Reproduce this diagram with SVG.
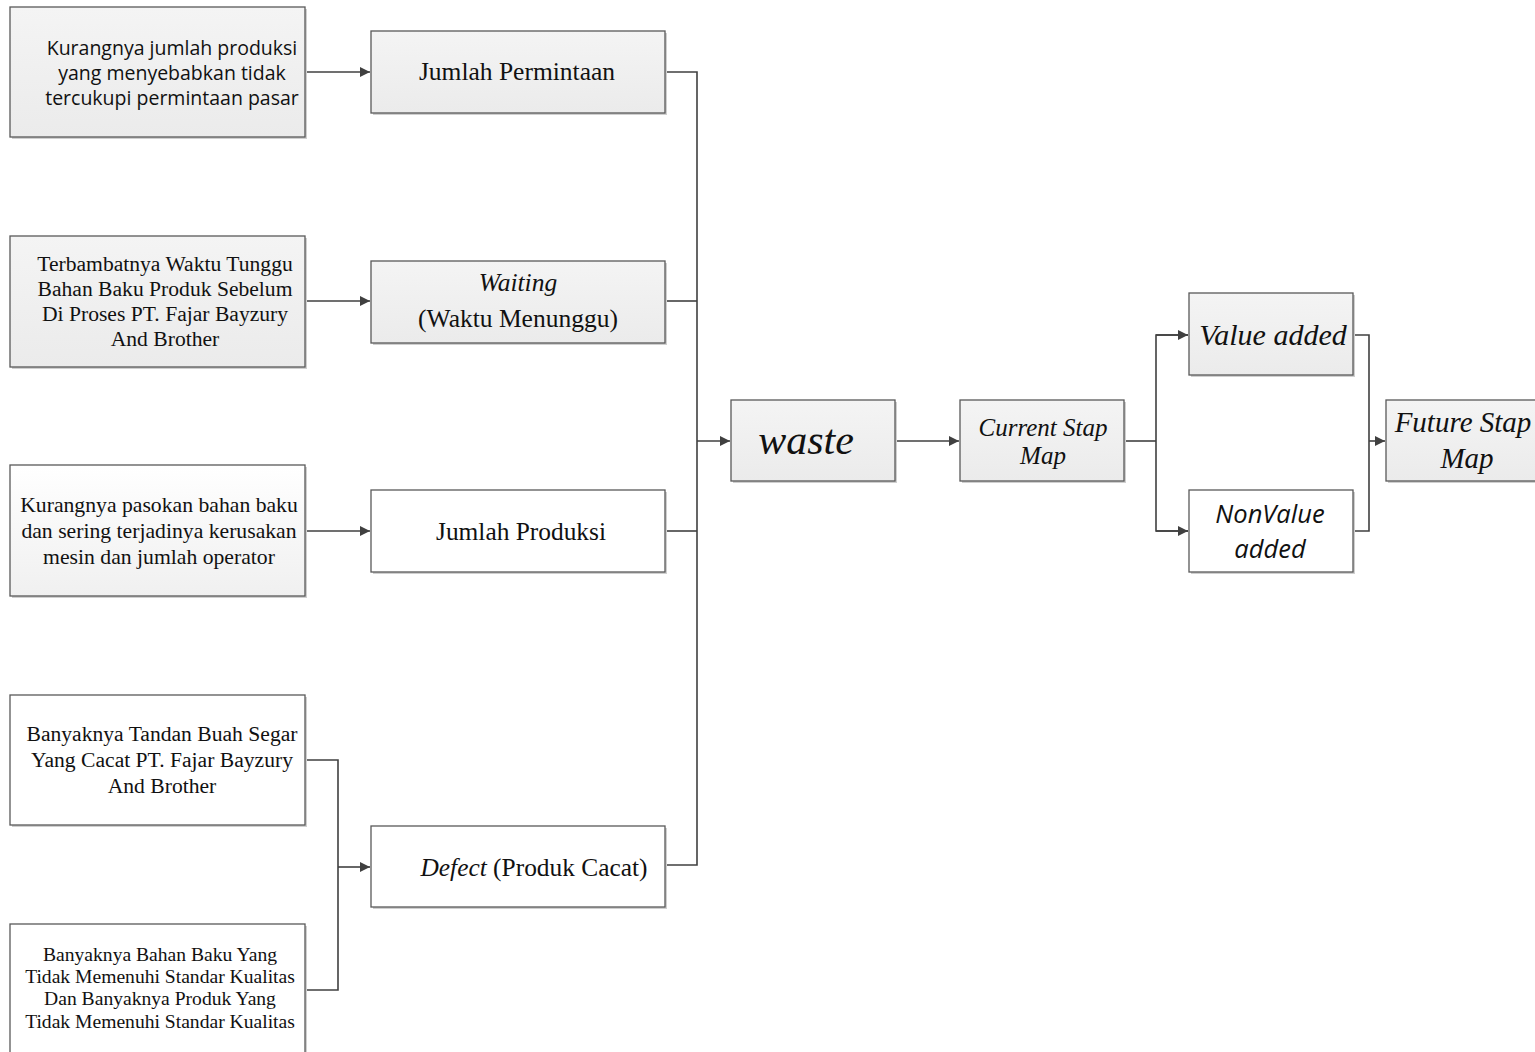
<svg xmlns="http://www.w3.org/2000/svg" width="1535" height="1052" viewBox="0 0 1535 1052">
<style>
.box{stroke:#595959;stroke-width:1.3}
.g{fill:url(#gr)}
.w{fill:#ffffff}
.sh{fill:#cfcfcf}
.t{font-family:"Liberation Serif","Times New Roman",serif;fill:#111;text-anchor:middle}
.s{font-family:"Open Sans","Liberation Sans",Arial,sans-serif;fill:#111;text-anchor:middle}
.i{font-style:italic}
.c{fill:none;stroke:#404040;stroke-width:1.6}
</style>
<defs>
<linearGradient id="gr" x1="0" y1="0" x2="0" y2="1">
<stop offset="0" stop-color="#f4f4f4"/>
<stop offset="1" stop-color="#ebebeb"/>
</linearGradient>
<linearGradient id="gr2" x1="0" y1="0" x2="0" y2="1">
<stop offset="0" stop-color="#ffffff"/>
<stop offset="1" stop-color="#f0f0f0"/>
</linearGradient>
<marker id="ar" viewBox="0 0 10 10" refX="10" refY="5" markerWidth="11" markerHeight="10" markerUnits="userSpaceOnUse" orient="auto">
<path d="M0,0 L10,5 L0,10 z" fill="#404040"/>
</marker>
</defs>

<g id="connectors">
<line class="c" x1="305" y1="72" x2="370" y2="72" marker-end="url(#ar)"/>
<line class="c" x1="305" y1="301" x2="370" y2="301" marker-end="url(#ar)"/>
<line class="c" x1="305" y1="531" x2="370" y2="531" marker-end="url(#ar)"/>
<polyline class="c" points="305,760 338,760 338,990 305,990"/>
<line class="c" x1="338" y1="867" x2="370" y2="867" marker-end="url(#ar)"/>
<polyline class="c" points="665,72 697,72 697,865 665,865"/>
<line class="c" x1="665" y1="301" x2="697" y2="301"/>
<line class="c" x1="665" y1="531" x2="697" y2="531"/>
<line class="c" x1="697" y1="441" x2="730" y2="441" marker-end="url(#ar)"/>
<line class="c" x1="895" y1="441" x2="959" y2="441" marker-end="url(#ar)"/>
<line class="c" x1="1124" y1="441" x2="1156" y2="441"/>
<polyline class="c" points="1188,335 1156,335 1156,531 1188,531"/>
<line class="c" x1="1156" y1="335" x2="1188" y2="335" marker-end="url(#ar)"/>
<line class="c" x1="1156" y1="531" x2="1188" y2="531" marker-end="url(#ar)"/>
<polyline class="c" points="1353,335 1369,335 1369,531 1353,531"/>
<line class="c" x1="1369" y1="441" x2="1385" y2="441" marker-end="url(#ar)"/>
</g>

<g id="n1">
<rect class="sh" x="12" y="9" width="295" height="130"/>
<rect class="box g" x="10" y="7" width="295" height="130"/>
<text class="s" font-size="19.5"><tspan x="172" y="55">Kurangnya jumlah produksi</tspan><tspan x="172" y="80">yang menyebabkan tidak</tspan><tspan x="172" y="105">tercukupi permintaan pasar</tspan></text>
</g>
<g id="n2">
<rect class="sh" x="373" y="33" width="294" height="82"/>
<rect class="box g" x="371" y="31" width="294" height="82"/>
<text class="t" x="517" y="80" font-size="25.5">Jumlah Permintaan</text>
</g>
<g id="n3">
<rect class="sh" x="12" y="238" width="295" height="131"/>
<rect class="box g" x="10" y="236" width="295" height="131"/>
<text class="t" font-size="21.6"><tspan x="165" y="271">Terbambatnya Waktu Tunggu</tspan><tspan x="165" y="296">Bahan Baku Produk Sebelum</tspan><tspan x="165" y="321">Di Proses PT. Fajar Bayzury</tspan><tspan x="165" y="346">And Brother</tspan></text>
</g>
<g id="n4">
<rect class="sh" x="373" y="263" width="294" height="82"/>
<rect class="box g" x="371" y="261" width="294" height="82"/>
<text class="t i" x="518" y="291" font-size="25.5">Waiting</text>
<text class="t" x="518" y="327" font-size="25.5">(Waktu Menunggu)</text>
</g>
<g id="n5">
<rect class="sh" x="12" y="467" width="295" height="131"/>
<rect class="box" fill="url(#gr2)" x="10" y="465" width="295" height="131"/>
<text class="t" font-size="21.7"><tspan x="159" y="512">Kurangnya pasokan bahan baku</tspan><tspan x="159" y="538">dan sering terjadinya kerusakan</tspan><tspan x="159" y="564">mesin dan jumlah operator</tspan></text>
</g>
<g id="n6">
<rect class="sh" x="373" y="492" width="294" height="82"/>
<rect class="box w" x="371" y="490" width="294" height="82"/>
<text class="t" x="521" y="540" font-size="25.4">Jumlah Produksi</text>
</g>
<g id="n7">
<rect class="sh" x="12" y="697" width="295" height="130"/>
<rect class="box w" x="10" y="695" width="295" height="130"/>
<text class="t" font-size="21.6"><tspan x="162" y="741">Banyaknya Tandan Buah Segar</tspan><tspan x="162" y="767">Yang Cacat PT. Fajar Bayzury</tspan><tspan x="162" y="793">And Brother</tspan></text>
</g>
<g id="n8">
<rect class="sh" x="12" y="926" width="295" height="130"/>
<rect class="box w" x="10" y="924" width="295" height="130"/>
<text class="t" font-size="19.6"><tspan x="160" y="961">Banyaknya Bahan Baku Yang</tspan><tspan x="160" y="983">Tidak Memenuhi Standar Kualitas</tspan><tspan x="160" y="1005">Dan Banyaknya Produk Yang</tspan><tspan x="160" y="1028">Tidak Memenuhi Standar Kualitas</tspan></text>
</g>
<g id="n9">
<rect class="sh" x="373" y="828" width="294" height="81"/>
<rect class="box w" x="371" y="826" width="294" height="81"/>
<text class="t" x="534" y="876" font-size="25.4"><tspan font-style="italic">Defect</tspan> (Produk Cacat)</text>
</g>
<g id="n10">
<rect class="sh" x="733" y="402" width="164" height="81"/>
<rect class="box g" x="731" y="400" width="164" height="81"/>
<text class="t i" x="806" y="454" font-size="42">waste</text>
</g>
<g id="n11">
<rect class="sh" x="962" y="402" width="164" height="81"/>
<rect class="box g" x="960" y="400" width="164" height="81"/>
<text class="t i" x="1043" y="436" font-size="25">Current Stap</text>
<text class="t i" x="1043" y="464" font-size="25">Map</text>
</g>
<g id="n12">
<rect class="sh" x="1191" y="295" width="164" height="82"/>
<rect class="box g" x="1189" y="293" width="164" height="82"/>
<text class="t i" x="1273" y="345" font-size="30">Value added</text>
</g>
<g id="n13">
<rect class="sh" x="1191" y="492" width="164" height="82"/>
<rect class="box w" x="1189" y="490" width="164" height="82"/>
<text class="s i" x="1270" y="523" font-size="25.5">NonValue</text>
<text class="s i" x="1270" y="558" font-size="25.5">added</text>
</g>
<g id="n14">
<rect class="sh" x="1388" y="402" width="150" height="81"/>
<rect class="box g" x="1386" y="400" width="152" height="81"/>
<text class="t i" x="1463" y="432" font-size="29">Future Stap</text>
<text class="t i" x="1467" y="468" font-size="29">Map</text>
</g>
</svg>
